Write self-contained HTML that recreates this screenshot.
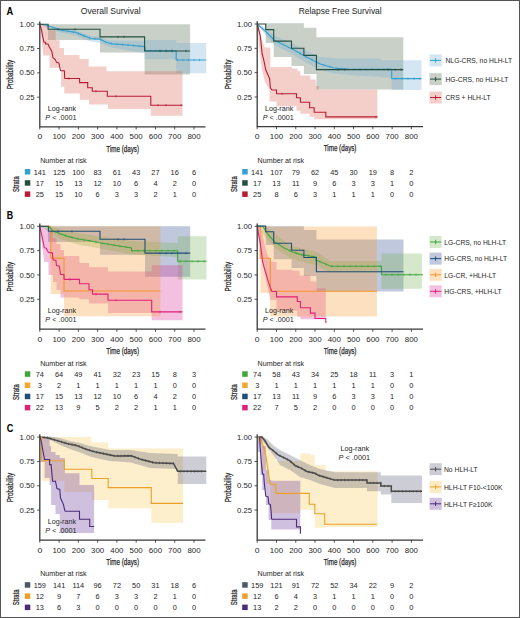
<!DOCTYPE html>
<html><head><meta charset="utf-8"><style>html,body{margin:0;padding:0;background:#fff;}svg{display:block;}text{font-family:"Liberation Sans", sans-serif;}</style></head>
<body><svg width="520" height="618" viewBox="0 0 520 618">
<rect x="0" y="0" width="520" height="618" fill="#fff"/>
<text x="6.50" y="15.00" font-size="10.4" text-anchor="start" fill="#000" font-weight="bold" textLength="6.7" lengthAdjust="spacingAndGlyphs" >A</text>
<text x="110.70" y="13.60" font-size="9.4" text-anchor="middle" fill="#262626" textLength="59.8" lengthAdjust="spacingAndGlyphs" >Overall Survival</text>
<text x="340.20" y="13.60" font-size="9.4" text-anchor="middle" fill="#262626" textLength="83" lengthAdjust="spacingAndGlyphs" >Relapse Free Survival</text>
<path d="M48.10,24.20 L100.00,24.20 L100.00,24.20 L144.60,24.20 L144.60,24.20 L190.10,24.20 L190.10,74.60 L144.60,74.60 L144.60,52.60 L100.00,52.60 L100.00,39.90 L48.10,39.90 Z" stroke="none" stroke-width="1" fill="#486248" fill-opacity="0.3" />
<path d="M39.80,24.20 L60.00,27.80 L75.40,30.00 L83.10,33.00 L90.80,36.00 L100.00,36.50 L106.20,39.50 L112.30,40.50 L130.00,40.80 L144.60,40.80 L144.60,40.00 L176.20,40.00 L176.20,43.00 L206.20,43.00 L206.20,73.20 L176.20,73.20 L176.20,59.20 L144.60,59.20 L144.60,53.00 L130.00,51.00 L112.30,47.50 L106.20,46.00 L100.00,43.00 L90.80,41.50 L83.10,39.00 L75.40,35.50 L60.00,32.50 L45.00,27.00 Z" stroke="none" stroke-width="1" fill="#73acd7" fill-opacity="0.3" />
<path d="M39.80,24.20 L43.80,24.20 L43.80,25.50 L48.40,25.50 L48.40,30.30 L55.70,30.30 L55.70,40.30 L59.50,40.30 L59.50,48.00 L64.00,48.00 L64.00,54.90 L79.50,54.90 L79.50,59.00 L88.70,59.00 L88.70,66.40 L106.50,66.40 L106.50,71.30 L182.50,71.30 L182.50,115.80 L150.80,115.80 L150.80,109.00 L108.00,109.00 L108.00,104.40 L89.00,104.40 L89.00,99.80 L79.80,99.80 L79.80,93.50 L64.20,93.50 L64.20,86.80 L61.10,86.80 L61.10,67.80 L49.60,67.80 L49.60,55.40 L43.30,55.40 L41.00,35.00 Z" stroke="none" stroke-width="1" fill="#d9604f" fill-opacity="0.3" />
<path d="M39.80,24.20 L45.00,25.00 L52.00,27.00 L60.00,30.00 L75.40,32.30 L83.10,35.40 L90.80,38.50 L100.00,39.20 L106.20,42.30 L112.30,43.80 L127.70,45.00 L144.60,46.60 L145.50,50.80 L176.20,50.80 L176.20,60.00 L206.20,60.00" stroke="#34a0cf" stroke-width="1.2" fill="none" />
<path d="M62.00,29.10 V31.50 M67.50,29.92 V32.32 M73.00,30.74 V33.14 M78.50,32.35 V34.75 M84.00,34.56 V36.96 M89.50,36.78 V39.18 M95.00,37.62 V40.02 M100.50,38.25 V40.65 M106.00,41.00 V43.40 M111.50,42.40 V44.80 M117.00,42.97 V45.37 M122.50,43.39 V45.79 M128.00,43.83 V46.23 M133.50,44.35 V46.75 M139.00,44.87 V47.27 M144.50,45.39 V47.79 M150.00,49.60 V52.00 M155.50,49.60 V52.00 M161.00,49.60 V52.00 M166.50,49.60 V52.00 M172.00,49.60 V52.00 M177.50,58.80 V61.20 M183.00,58.80 V61.20 M188.50,58.80 V61.20 M194.00,58.80 V61.20 M199.50,58.80 V61.20" stroke="#34a0cf" stroke-width="0.7" fill="none"/>
<path d="M39.80,24.20 H48.10 V29.20 H100.00 V36.90 H144.60 V51.00 H190.10" stroke="#244f3f" stroke-width="1.1" fill="none" />
<path d="M58.00,28.00 V30.40 M75.00,28.00 V30.40 M118.00,35.70 V38.10 M124.00,35.70 V38.10 M160.00,49.80 V52.20 M166.00,49.80 V52.20 M172.00,49.80 V52.20 M186.00,49.80 V52.20" stroke="#244f3f" stroke-width="0.7" fill="none"/>
<path d="M39.80,24.20 L41.50,30.00 L43.00,38.00 L44.00,42.20 L45.50,42.20 L45.50,44.00 L48.00,44.00 L49.00,46.30 L51.80,51.40 L53.00,57.80 L55.30,59.50 L56.50,62.40 L58.80,63.00 L60.50,70.50 L64.50,71.00 L64.60,78.50 M64.60,78.50 H79.60 V82.60 H87.70 V87.70 H92.30 V91.20 H107.30 V96.30 H150.80 V105.20 H182.50" stroke="#b81c34" stroke-width="1.1" fill="none" />
<path d="M69.00,77.30 V79.70 M96.00,90.00 V92.40 M116.00,95.10 V97.50 M158.00,104.00 V106.40 M166.00,104.00 V106.40 M181.00,104.00 V106.40" stroke="#b81c34" stroke-width="0.7" fill="none"/>
<text x="47.70" y="111.20" font-size="7.2" text-anchor="start" fill="#262626" textLength="28.3" lengthAdjust="spacingAndGlyphs" >Log-rank</text>
<text x="45.30" y="120.30" font-size="7.2" text-anchor="start" fill="#262626" textLength="31.2" lengthAdjust="spacingAndGlyphs" ><tspan font-style="italic">P</tspan> &lt; .0001</text>
<path d="M265.70,23.30 L273.70,23.30 L273.70,23.30 L291.50,23.30 L291.50,23.30 L303.90,23.30 L303.90,27.80 L316.40,27.80 L316.40,37.20 L403.30,37.20 L403.30,89.50 L316.40,89.50 L316.40,74.00 L303.90,74.00 L303.90,66.00 L291.50,66.00 L291.50,57.10 L273.70,57.10 L273.70,43.00 L265.70,43.00 Z" stroke="none" stroke-width="1" fill="#486248" fill-opacity="0.3" />
<path d="M257.20,24.00 L265.70,27.50 L274.60,35.50 L293.50,44.00 L306.90,51.00 L320.40,57.00 L340.00,58.40 L381.00,58.40 L381.00,60.30 L421.50,60.30 L421.50,90.00 L391.70,90.00 L391.70,78.00 L381.00,77.00 L360.00,75.70 L333.80,73.50 L320.40,70.00 L306.90,63.00 L293.50,55.00 L274.60,45.00 L265.70,35.50 Z" stroke="none" stroke-width="1" fill="#73acd7" fill-opacity="0.3" />
<path d="M257.20,24.00 L262.00,40.00 L264.80,47.40 L270.40,47.40 L270.40,67.00 L291.90,67.00 L291.90,68.60 L297.50,68.60 L297.50,71.30 L300.20,71.30 L300.20,75.40 L310.30,75.40 L310.30,79.40 L315.70,79.40 L315.70,86.10 L319.00,86.10 L319.00,89.50 L377.30,89.50 L377.30,119.30 L314.20,119.30 L314.20,116.90 L309.60,116.90 L309.60,113.80 L300.40,113.80 L300.40,110.80 L296.50,110.80 L296.50,106.20 L276.50,106.20 L276.50,101.50 L269.60,101.50 L269.60,90.00 L265.00,82.00 L262.00,70.00 L259.50,50.00 Z" stroke="none" stroke-width="1" fill="#d9604f" fill-opacity="0.3" />
<path d="M257.20,24.00 L265.70,31.50 L274.60,40.50 L280.00,43.10 L293.50,49.80 L306.90,57.20 L320.40,64.00 L333.80,68.00 L350.00,69.30 L391.70,69.30 L391.70,78.60 L421.50,78.60" stroke="#34a0cf" stroke-width="1.1" fill="none" />
<path d="M300.00,52.19 V54.59 M306.00,55.50 V57.90 M312.00,58.57 V60.97 M318.00,61.59 V63.99 M324.00,63.87 V66.27 M330.00,65.67 V68.07 M336.00,66.98 V69.38 M342.00,67.46 V69.86 M348.00,67.94 V70.34 M354.00,68.10 V70.50 M360.00,68.10 V70.50 M366.00,68.10 V70.50 M372.00,68.10 V70.50 M378.00,68.10 V70.50 M384.00,68.10 V70.50 M390.00,68.10 V70.50 M396.00,77.40 V79.80 M402.00,77.40 V79.80 M408.00,77.40 V79.80 M414.00,77.40 V79.80 M420.00,77.40 V79.80" stroke="#34a0cf" stroke-width="0.7" fill="none"/>
<path d="M257.20,24.00 H265.70 V29.60 H273.70 V41.10 H291.50 V48.20 H303.90 V55.40 H316.40 V69.60 H403.30" stroke="#244f3f" stroke-width="1.1" fill="none" />
<path d="M338.00,68.40 V70.80 M345.00,68.40 V70.80 M388.00,68.40 V70.80 M395.00,68.40 V70.80 M401.00,68.40 V70.80" stroke="#244f3f" stroke-width="0.7" fill="none"/>
<path d="M257.40,24.00 L260.30,35.80 L262.10,53.60 L263.90,60.70 L265.80,70.00 L269.60,78.50 L270.40,87.70 L271.90,90.00 M271.90,90.00 H276.50 V93.80 H296.50 V97.70 H300.40 V102.30 H309.60 V107.70 H314.20 V112.30 H325.80 V116.90 H377.50" stroke="#b81c34" stroke-width="1.1" fill="none" />
<path d="M282.00,92.60 V95.00 M376.00,115.70 V118.10" stroke="#b81c34" stroke-width="0.7" fill="none"/>
<text x="265.00" y="111.20" font-size="7.2" text-anchor="start" fill="#262626" textLength="28.3" lengthAdjust="spacingAndGlyphs" >Log-rank</text>
<text x="262.70" y="120.30" font-size="7.2" text-anchor="start" fill="#262626" textLength="31.2" lengthAdjust="spacingAndGlyphs" ><tspan font-style="italic">P</tspan> &lt; .0001</text>
<path d="M39.80,21.40 V126.90 H205.50" stroke="#3a3a3a" stroke-width="1.3" fill="none" />
<path d="M37.20,24.20 H39.80" stroke="#3a3a3a" stroke-width="0.9" fill="none" />
<text x="34.60" y="26.80" font-size="7.4" text-anchor="end" fill="#262626" textLength="15.0" lengthAdjust="spacingAndGlyphs" >1.00</text>
<path d="M37.20,48.52 H39.80" stroke="#3a3a3a" stroke-width="0.9" fill="none" />
<text x="34.60" y="51.12" font-size="7.4" text-anchor="end" fill="#262626" textLength="15.0" lengthAdjust="spacingAndGlyphs" >0.75</text>
<path d="M37.20,72.85 H39.80" stroke="#3a3a3a" stroke-width="0.9" fill="none" />
<text x="34.60" y="75.45" font-size="7.4" text-anchor="end" fill="#262626" textLength="15.0" lengthAdjust="spacingAndGlyphs" >0.50</text>
<path d="M37.20,97.17 H39.80" stroke="#3a3a3a" stroke-width="0.9" fill="none" />
<text x="34.60" y="99.77" font-size="7.4" text-anchor="end" fill="#262626" textLength="15.0" lengthAdjust="spacingAndGlyphs" >0.25</text>
<path d="M39.80,126.90 V129.50" stroke="#3a3a3a" stroke-width="0.9" fill="none" />
<text x="39.80" y="139.40" font-size="7.4" text-anchor="middle" fill="#262626" textLength="4.8" lengthAdjust="spacingAndGlyphs" >0</text>
<path d="M59.08,126.90 V129.50" stroke="#3a3a3a" stroke-width="0.9" fill="none" />
<text x="59.08" y="139.40" font-size="7.4" text-anchor="middle" fill="#262626" textLength="13.2" lengthAdjust="spacingAndGlyphs" >100</text>
<path d="M78.35,126.90 V129.50" stroke="#3a3a3a" stroke-width="0.9" fill="none" />
<text x="78.35" y="139.40" font-size="7.4" text-anchor="middle" fill="#262626" textLength="13.2" lengthAdjust="spacingAndGlyphs" >200</text>
<path d="M97.62,126.90 V129.50" stroke="#3a3a3a" stroke-width="0.9" fill="none" />
<text x="97.62" y="139.40" font-size="7.4" text-anchor="middle" fill="#262626" textLength="13.2" lengthAdjust="spacingAndGlyphs" >300</text>
<path d="M116.90,126.90 V129.50" stroke="#3a3a3a" stroke-width="0.9" fill="none" />
<text x="116.90" y="139.40" font-size="7.4" text-anchor="middle" fill="#262626" textLength="13.2" lengthAdjust="spacingAndGlyphs" >400</text>
<path d="M136.18,126.90 V129.50" stroke="#3a3a3a" stroke-width="0.9" fill="none" />
<text x="136.18" y="139.40" font-size="7.4" text-anchor="middle" fill="#262626" textLength="13.2" lengthAdjust="spacingAndGlyphs" >500</text>
<path d="M155.45,126.90 V129.50" stroke="#3a3a3a" stroke-width="0.9" fill="none" />
<text x="155.45" y="139.40" font-size="7.4" text-anchor="middle" fill="#262626" textLength="13.2" lengthAdjust="spacingAndGlyphs" >600</text>
<path d="M174.73,126.90 V129.50" stroke="#3a3a3a" stroke-width="0.9" fill="none" />
<text x="174.73" y="139.40" font-size="7.4" text-anchor="middle" fill="#262626" textLength="13.2" lengthAdjust="spacingAndGlyphs" >700</text>
<path d="M194.00,126.90 V129.50" stroke="#3a3a3a" stroke-width="0.9" fill="none" />
<text x="194.00" y="139.40" font-size="7.4" text-anchor="middle" fill="#262626" textLength="13.2" lengthAdjust="spacingAndGlyphs" >800</text>
<text x="122.65" y="151.70" font-size="8.8" text-anchor="middle" fill="#262626" textLength="32.7" lengthAdjust="spacingAndGlyphs" stroke="#262626" stroke-width="0.25">Time (days)</text>
<text x="13.20" y="74.60" font-size="8.6" text-anchor="middle" fill="#262626" textLength="29.5" lengthAdjust="spacingAndGlyphs" transform="rotate(-90 13.20 74.60)" stroke="#262626" stroke-width="0.25">Probability</text>
<path d="M257.20,21.20 V126.60 H423.00" stroke="#3a3a3a" stroke-width="1.3" fill="none" />
<path d="M254.60,24.00 H257.20" stroke="#3a3a3a" stroke-width="0.9" fill="none" />
<text x="252.00" y="26.60" font-size="7.4" text-anchor="end" fill="#262626" textLength="15.0" lengthAdjust="spacingAndGlyphs" >1.00</text>
<path d="M254.60,48.33 H257.20" stroke="#3a3a3a" stroke-width="0.9" fill="none" />
<text x="252.00" y="50.93" font-size="7.4" text-anchor="end" fill="#262626" textLength="15.0" lengthAdjust="spacingAndGlyphs" >0.75</text>
<path d="M254.60,72.65 H257.20" stroke="#3a3a3a" stroke-width="0.9" fill="none" />
<text x="252.00" y="75.25" font-size="7.4" text-anchor="end" fill="#262626" textLength="15.0" lengthAdjust="spacingAndGlyphs" >0.50</text>
<path d="M254.60,96.97 H257.20" stroke="#3a3a3a" stroke-width="0.9" fill="none" />
<text x="252.00" y="99.57" font-size="7.4" text-anchor="end" fill="#262626" textLength="15.0" lengthAdjust="spacingAndGlyphs" >0.25</text>
<path d="M257.20,126.60 V129.20" stroke="#3a3a3a" stroke-width="0.9" fill="none" />
<text x="257.20" y="139.10" font-size="7.4" text-anchor="middle" fill="#262626" textLength="4.8" lengthAdjust="spacingAndGlyphs" >0</text>
<path d="M276.47,126.60 V129.20" stroke="#3a3a3a" stroke-width="0.9" fill="none" />
<text x="276.47" y="139.10" font-size="7.4" text-anchor="middle" fill="#262626" textLength="13.2" lengthAdjust="spacingAndGlyphs" >100</text>
<path d="M295.75,126.60 V129.20" stroke="#3a3a3a" stroke-width="0.9" fill="none" />
<text x="295.75" y="139.10" font-size="7.4" text-anchor="middle" fill="#262626" textLength="13.2" lengthAdjust="spacingAndGlyphs" >200</text>
<path d="M315.02,126.60 V129.20" stroke="#3a3a3a" stroke-width="0.9" fill="none" />
<text x="315.02" y="139.10" font-size="7.4" text-anchor="middle" fill="#262626" textLength="13.2" lengthAdjust="spacingAndGlyphs" >300</text>
<path d="M334.30,126.60 V129.20" stroke="#3a3a3a" stroke-width="0.9" fill="none" />
<text x="334.30" y="139.10" font-size="7.4" text-anchor="middle" fill="#262626" textLength="13.2" lengthAdjust="spacingAndGlyphs" >400</text>
<path d="M353.57,126.60 V129.20" stroke="#3a3a3a" stroke-width="0.9" fill="none" />
<text x="353.57" y="139.10" font-size="7.4" text-anchor="middle" fill="#262626" textLength="13.2" lengthAdjust="spacingAndGlyphs" >500</text>
<path d="M372.85,126.60 V129.20" stroke="#3a3a3a" stroke-width="0.9" fill="none" />
<text x="372.85" y="139.10" font-size="7.4" text-anchor="middle" fill="#262626" textLength="13.2" lengthAdjust="spacingAndGlyphs" >600</text>
<path d="M392.12,126.60 V129.20" stroke="#3a3a3a" stroke-width="0.9" fill="none" />
<text x="392.12" y="139.10" font-size="7.4" text-anchor="middle" fill="#262626" textLength="13.2" lengthAdjust="spacingAndGlyphs" >700</text>
<path d="M411.40,126.60 V129.20" stroke="#3a3a3a" stroke-width="0.9" fill="none" />
<text x="411.40" y="139.10" font-size="7.4" text-anchor="middle" fill="#262626" textLength="13.2" lengthAdjust="spacingAndGlyphs" >800</text>
<text x="340.10" y="151.40" font-size="8.8" text-anchor="middle" fill="#262626" textLength="32.7" lengthAdjust="spacingAndGlyphs" stroke="#262626" stroke-width="0.25">Time (days)</text>
<text x="230.60" y="74.40" font-size="8.6" text-anchor="middle" fill="#262626" textLength="29.5" lengthAdjust="spacingAndGlyphs" transform="rotate(-90 230.60 74.40)" stroke="#262626" stroke-width="0.25">Probability</text>
<text x="40.20" y="163.20" font-size="7.5" text-anchor="start" fill="#262626" textLength="46.5" lengthAdjust="spacingAndGlyphs" >Number at risk</text>
<rect x="24.80" y="169.00" width="5.5" height="5.5" fill="#34a0cf"/>
<text x="39.80" y="174.50" font-size="7.4" text-anchor="middle" fill="#262626" >141</text>
<text x="59.08" y="174.50" font-size="7.4" text-anchor="middle" fill="#262626" >125</text>
<text x="78.35" y="174.50" font-size="7.4" text-anchor="middle" fill="#262626" >100</text>
<text x="97.62" y="174.50" font-size="7.4" text-anchor="middle" fill="#262626" >83</text>
<text x="116.90" y="174.50" font-size="7.4" text-anchor="middle" fill="#262626" >61</text>
<text x="136.18" y="174.50" font-size="7.4" text-anchor="middle" fill="#262626" >43</text>
<text x="155.45" y="174.50" font-size="7.4" text-anchor="middle" fill="#262626" >27</text>
<text x="174.73" y="174.50" font-size="7.4" text-anchor="middle" fill="#262626" >16</text>
<text x="194.00" y="174.50" font-size="7.4" text-anchor="middle" fill="#262626" >6</text>
<rect x="24.80" y="180.20" width="5.5" height="5.5" fill="#244f3f"/>
<text x="39.80" y="185.70" font-size="7.4" text-anchor="middle" fill="#262626" >17</text>
<text x="59.08" y="185.70" font-size="7.4" text-anchor="middle" fill="#262626" >15</text>
<text x="78.35" y="185.70" font-size="7.4" text-anchor="middle" fill="#262626" >13</text>
<text x="97.62" y="185.70" font-size="7.4" text-anchor="middle" fill="#262626" >12</text>
<text x="116.90" y="185.70" font-size="7.4" text-anchor="middle" fill="#262626" >10</text>
<text x="136.18" y="185.70" font-size="7.4" text-anchor="middle" fill="#262626" >6</text>
<text x="155.45" y="185.70" font-size="7.4" text-anchor="middle" fill="#262626" >4</text>
<text x="174.73" y="185.70" font-size="7.4" text-anchor="middle" fill="#262626" >2</text>
<text x="194.00" y="185.70" font-size="7.4" text-anchor="middle" fill="#262626" >0</text>
<rect x="24.80" y="191.40" width="5.5" height="5.5" fill="#b81c34"/>
<text x="39.80" y="196.90" font-size="7.4" text-anchor="middle" fill="#262626" >25</text>
<text x="59.08" y="196.90" font-size="7.4" text-anchor="middle" fill="#262626" >15</text>
<text x="78.35" y="196.90" font-size="7.4" text-anchor="middle" fill="#262626" >10</text>
<text x="97.62" y="196.90" font-size="7.4" text-anchor="middle" fill="#262626" >6</text>
<text x="116.90" y="196.90" font-size="7.4" text-anchor="middle" fill="#262626" >3</text>
<text x="136.18" y="196.90" font-size="7.4" text-anchor="middle" fill="#262626" >3</text>
<text x="155.45" y="196.90" font-size="7.4" text-anchor="middle" fill="#262626" >2</text>
<text x="174.73" y="196.90" font-size="7.4" text-anchor="middle" fill="#262626" >1</text>
<text x="194.00" y="196.90" font-size="7.4" text-anchor="middle" fill="#262626" >0</text>
<text x="19.20" y="184.10" font-size="8.8" text-anchor="middle" fill="#262626" textLength="15.8" lengthAdjust="spacingAndGlyphs" transform="rotate(-90 19.20 184.10)" stroke="#262626" stroke-width="0.25">Strata</text>
<text x="257.60" y="163.20" font-size="7.5" text-anchor="start" fill="#262626" textLength="46.5" lengthAdjust="spacingAndGlyphs" >Number at risk</text>
<rect x="242.20" y="169.00" width="5.5" height="5.5" fill="#34a0cf"/>
<text x="257.20" y="174.50" font-size="7.4" text-anchor="middle" fill="#262626" >141</text>
<text x="276.47" y="174.50" font-size="7.4" text-anchor="middle" fill="#262626" >107</text>
<text x="295.75" y="174.50" font-size="7.4" text-anchor="middle" fill="#262626" >79</text>
<text x="315.02" y="174.50" font-size="7.4" text-anchor="middle" fill="#262626" >62</text>
<text x="334.30" y="174.50" font-size="7.4" text-anchor="middle" fill="#262626" >45</text>
<text x="353.57" y="174.50" font-size="7.4" text-anchor="middle" fill="#262626" >30</text>
<text x="372.85" y="174.50" font-size="7.4" text-anchor="middle" fill="#262626" >19</text>
<text x="392.12" y="174.50" font-size="7.4" text-anchor="middle" fill="#262626" >8</text>
<text x="411.40" y="174.50" font-size="7.4" text-anchor="middle" fill="#262626" >2</text>
<rect x="242.20" y="180.20" width="5.5" height="5.5" fill="#244f3f"/>
<text x="257.20" y="185.70" font-size="7.4" text-anchor="middle" fill="#262626" >17</text>
<text x="276.47" y="185.70" font-size="7.4" text-anchor="middle" fill="#262626" >13</text>
<text x="295.75" y="185.70" font-size="7.4" text-anchor="middle" fill="#262626" >11</text>
<text x="315.02" y="185.70" font-size="7.4" text-anchor="middle" fill="#262626" >9</text>
<text x="334.30" y="185.70" font-size="7.4" text-anchor="middle" fill="#262626" >6</text>
<text x="353.57" y="185.70" font-size="7.4" text-anchor="middle" fill="#262626" >3</text>
<text x="372.85" y="185.70" font-size="7.4" text-anchor="middle" fill="#262626" >3</text>
<text x="392.12" y="185.70" font-size="7.4" text-anchor="middle" fill="#262626" >1</text>
<text x="411.40" y="185.70" font-size="7.4" text-anchor="middle" fill="#262626" >0</text>
<rect x="242.20" y="191.40" width="5.5" height="5.5" fill="#b81c34"/>
<text x="257.20" y="196.90" font-size="7.4" text-anchor="middle" fill="#262626" >25</text>
<text x="276.47" y="196.90" font-size="7.4" text-anchor="middle" fill="#262626" >8</text>
<text x="295.75" y="196.90" font-size="7.4" text-anchor="middle" fill="#262626" >6</text>
<text x="315.02" y="196.90" font-size="7.4" text-anchor="middle" fill="#262626" >3</text>
<text x="334.30" y="196.90" font-size="7.4" text-anchor="middle" fill="#262626" >1</text>
<text x="353.57" y="196.90" font-size="7.4" text-anchor="middle" fill="#262626" >1</text>
<text x="372.85" y="196.90" font-size="7.4" text-anchor="middle" fill="#262626" >1</text>
<text x="392.12" y="196.90" font-size="7.4" text-anchor="middle" fill="#262626" >0</text>
<text x="411.40" y="196.90" font-size="7.4" text-anchor="middle" fill="#262626" >0</text>
<text x="236.60" y="184.10" font-size="8.8" text-anchor="middle" fill="#262626" textLength="15.8" lengthAdjust="spacingAndGlyphs" transform="rotate(-90 236.60 184.10)" stroke="#262626" stroke-width="0.25">Strata</text>
<rect x="429.50" y="54.40" width="12.2" height="12" fill="#73acd7" fill-opacity="0.3"/>
<path d="M430.00,60.40 H441.20 M435.60,58.20 V62.60" stroke="#34a0cf" stroke-width="1.0" fill="none" />
<text x="445.50" y="63.20" font-size="7.1" text-anchor="start" fill="#262626" textLength="66.64" lengthAdjust="spacingAndGlyphs" >NLG-CRS, no HLH-LT</text>
<rect x="429.50" y="73.10" width="12.2" height="12" fill="#486248" fill-opacity="0.3"/>
<path d="M430.00,79.10 H441.20 M435.60,76.90 V81.30" stroke="#244f3f" stroke-width="1.0" fill="none" />
<text x="445.50" y="81.90" font-size="7.1" text-anchor="start" fill="#262626" textLength="62.88" lengthAdjust="spacingAndGlyphs" >HG-CRS, no HLH-LT</text>
<rect x="429.50" y="91.50" width="12.2" height="12" fill="#d9604f" fill-opacity="0.3"/>
<path d="M430.00,97.50 H441.20 M435.60,95.30 V99.70" stroke="#b81c34" stroke-width="1.0" fill="none" />
<text x="445.50" y="100.30" font-size="7.1" text-anchor="start" fill="#262626" textLength="45.07" lengthAdjust="spacingAndGlyphs" >CRS + HLH-LT</text>
<text x="6.70" y="219.30" font-size="10.4" text-anchor="start" fill="#000" font-weight="bold" textLength="6.4" lengthAdjust="spacingAndGlyphs" >B</text>
<path d="M48.10,226.30 L100.00,226.30 L100.00,226.30 L145.00,226.30 L145.00,226.30 L190.20,226.30 L190.20,276.70 L145.00,276.70 L145.00,254.70 L100.00,254.70 L100.00,242.00 L48.10,242.00 Z" stroke="none" stroke-width="1" fill="#2c4a8c" fill-opacity="0.3" />
<path d="M39.80,226.30 L50.00,226.50 L60.00,229.00 L80.00,233.50 L100.00,236.50 L131.50,241.00 L177.70,243.00 L177.70,236.30 L206.50,236.30 L206.50,279.60 L177.70,279.60 L177.70,257.00 L131.50,254.50 L100.00,248.50 L80.00,245.00 L60.00,239.00 L45.00,229.00 Z" stroke="none" stroke-width="1" fill="#73b255" fill-opacity="0.3" />
<path d="M39.80,226.30 L44.00,226.30 L44.00,228.00 L48.40,228.00 L48.40,232.00 L53.00,232.00 L53.00,238.00 L56.50,238.00 L56.50,244.00 L60.50,244.00 L60.50,250.00 L64.00,250.00 L64.00,256.00 L79.50,256.00 L79.50,263.00 L89.00,263.00 L89.00,267.30 L108.00,267.30 L108.00,271.60 L151.70,271.60 L151.70,265.20 L182.50,265.20 L182.50,320.20 L151.70,320.20 L151.70,313.10 L108.00,313.10 L108.00,303.60 L89.00,303.60 L89.00,299.30 L79.50,299.30 L79.50,297.60 L60.50,297.60 L60.50,290.00 L56.50,290.00 L56.50,282.00 L53.00,282.00 L53.00,275.00 L48.40,275.00 L48.40,262.00 L44.30,262.00 L42.00,245.00 L40.50,232.00 Z" stroke="none" stroke-width="1" fill="#d72d98" fill-opacity="0.3" />
<path d="M50.70,226.30 L64.00,226.30 L64.00,226.30 L160.40,226.30 L160.40,316.20 L64.00,316.20 L64.00,294.00 L50.70,294.00 Z" stroke="none" stroke-width="1" fill="#f8982d" fill-opacity="0.3" />
<path d="M39.80,226.30 H50.70 V258.10 H64.00 V291.00 H160.40" stroke="#f5962a" stroke-width="1.1" fill="none" />
<path d="M39.80,226.30 L49.00,226.90 L53.00,231.00 L58.80,233.30 L66.80,236.10 L78.40,239.00 L89.90,240.80 L98.00,242.50 L110.00,244.50 L131.50,247.90 L131.50,250.80 L177.70,250.80 L177.70,261.30 L206.50,261.30" stroke="#3fa63a" stroke-width="1.1" fill="none" />
<path d="M60.00,232.52 V234.92 M66.00,234.62 V237.02 M72.00,236.20 V238.60 M78.00,237.70 V240.10 M84.00,238.68 V241.08 M90.00,239.62 V242.02 M96.00,240.88 V243.28 M102.00,241.97 V244.37 M108.00,242.97 V245.37 M114.00,243.93 V246.33 M120.00,244.88 V247.28 M126.00,245.83 V248.23 M132.00,249.60 V252.00 M138.00,249.60 V252.00 M144.00,249.60 V252.00 M150.00,249.60 V252.00 M156.00,249.60 V252.00 M162.00,249.60 V252.00 M168.00,249.60 V252.00 M174.00,249.60 V252.00 M180.00,260.10 V262.50 M186.00,260.10 V262.50 M192.00,260.10 V262.50 M198.00,260.10 V262.50 M204.00,260.10 V262.50" stroke="#3fa63a" stroke-width="0.7" fill="none"/>
<path d="M39.80,226.30 H48.40 V231.30 H100.00 V239.20 H145.00 V253.10 H190.20" stroke="#1f4e79" stroke-width="1.1" fill="none" />
<path d="M58.00,230.10 V232.50 M72.00,230.10 V232.50 M118.00,238.00 V240.40 M124.00,238.00 V240.40 M160.00,251.90 V254.30 M166.00,251.90 V254.30 M172.00,251.90 V254.30 M186.00,251.90 V254.30" stroke="#1f4e79" stroke-width="0.7" fill="none"/>
<path d="M39.70,225.50 L40.90,231.50 L42.60,239.00 L44.30,247.70 L46.10,248.30 L48.40,252.30 L52.40,252.90 L53.00,259.80 L55.90,260.40 L56.50,265.60 L59.30,266.10 L60.50,274.20 L64.00,274.80 L64.00,279.40 M64.00,279.40 H79.50 V283.70 H89.00 V289.80 H92.50 V294.10 H108.00 V300.20 H151.70 V311.90 H182.50" stroke="#e0207a" stroke-width="1.1" fill="none" />
<path d="M70.00,278.20 V280.60 M96.00,292.90 V295.30 M116.00,299.00 V301.40 M160.00,310.70 V313.10 M180.00,310.70 V313.10" stroke="#e0207a" stroke-width="0.7" fill="none"/>
<text x="47.70" y="313.40" font-size="7.2" text-anchor="start" fill="#262626" textLength="28.3" lengthAdjust="spacingAndGlyphs" >Log-rank</text>
<text x="45.30" y="322.40" font-size="7.2" text-anchor="start" fill="#262626" textLength="31.2" lengthAdjust="spacingAndGlyphs" ><tspan font-style="italic">P</tspan> &lt; .0001</text>
<path d="M265.70,226.30 L273.70,226.30 L273.70,226.30 L291.50,226.30 L291.50,226.30 L303.90,226.30 L303.90,229.90 L316.40,229.90 L316.40,239.40 L403.50,239.40 L403.50,291.50 L316.40,291.50 L316.40,276.10 L303.90,276.10 L303.90,268.10 L291.50,268.10 L291.50,259.20 L273.70,259.20 L273.70,245.10 L265.70,245.10 Z" stroke="none" stroke-width="1" fill="#2c4a8c" fill-opacity="0.3" />
<path d="M257.20,226.30 L266.00,227.00 L275.00,234.00 L290.00,245.50 L317.00,252.00 L330.00,261.00 L381.50,261.00 L381.50,253.50 L421.90,253.50 L421.90,288.80 L381.50,288.80 L381.50,272.50 L330.00,272.50 L317.00,266.00 L290.00,258.00 L275.00,248.00 L266.00,238.00 L260.00,230.00 Z" stroke="none" stroke-width="1" fill="#73b255" fill-opacity="0.3" />
<path d="M257.20,226.30 L259.00,226.30 L262.00,232.00 L264.50,244.00 L266.50,252.00 L270.40,262.00 L276.50,262.00 L276.50,269.80 L292.40,269.80 L292.40,270.80 L299.60,270.80 L299.60,275.40 L310.40,275.40 L310.40,281.50 L316.50,281.50 L316.50,288.20 L325.80,288.20 L325.80,319.20 L300.40,319.20 L300.40,316.50 L297.30,316.50 L297.30,310.80 L276.50,310.80 L276.50,300.00 L270.40,300.00 L267.00,285.00 L264.00,270.00 L261.00,250.00 L258.50,235.00 Z" stroke="none" stroke-width="1" fill="#d72d98" fill-opacity="0.3" />
<path d="M260.30,226.30 L270.10,226.30 L270.10,226.50 L376.90,226.50 L376.90,316.50 L270.10,316.50 L270.10,293.00 L260.30,293.00 Z" stroke="none" stroke-width="1" fill="#f8982d" fill-opacity="0.3" />
<path d="M257.20,226.30 H260.20 V258.20 H270.40 V291.20 H376.90" stroke="#f5962a" stroke-width="1.1" fill="none" />
<path d="M257.20,226.30 L263.10,226.30 L266.50,232.70 L274.60,241.90 L283.80,247.70 L291.90,251.70 L301.10,254.60 L315.80,256.90 L315.80,260.00 L330.80,266.20 L381.50,266.20 L381.50,274.70 L423.00,274.70" stroke="#3fa63a" stroke-width="1.1" fill="none" />
<path d="M290.00,249.56 V251.96 M296.00,251.79 V254.19 M302.00,253.54 V255.94 M308.00,254.48 V256.88 M314.00,255.42 V257.82 M320.00,260.54 V262.94 M326.00,263.02 V265.42 M332.00,265.00 V267.40 M338.00,265.00 V267.40 M344.00,265.00 V267.40 M350.00,265.00 V267.40 M356.00,265.00 V267.40 M362.00,265.00 V267.40 M368.00,265.00 V267.40 M374.00,265.00 V267.40 M380.00,265.00 V267.40 M386.00,273.50 V275.90 M392.00,273.50 V275.90 M398.00,273.50 V275.90 M404.00,273.50 V275.90 M410.00,273.50 V275.90 M416.00,273.50 V275.90" stroke="#3fa63a" stroke-width="0.7" fill="none"/>
<path d="M257.20,226.10 H265.70 V231.70 H273.70 V243.20 H291.50 V250.30 H303.90 V257.50 H316.40 V271.70 H403.50" stroke="#1f4e79" stroke-width="1.1" fill="none" />
<path d="M257.40,226.30 L258.50,233.80 L260.20,243.10 L261.30,251.10 L262.50,261.50 L264.20,267.70 L266.50,275.40 L268.80,283.10 L270.40,287.70 L271.90,291.50 M271.90,291.50 H276.50 V296.90 H297.30 V301.50 H300.40 V307.70 H310.40 V313.10 H315.00 V318.50 H325.80 V323.10 H325.80" stroke="#e0207a" stroke-width="1.1" fill="none" />
<text x="265.00" y="313.40" font-size="7.2" text-anchor="start" fill="#262626" textLength="28.3" lengthAdjust="spacingAndGlyphs" >Log-rank</text>
<text x="262.70" y="322.40" font-size="7.2" text-anchor="start" fill="#262626" textLength="31.2" lengthAdjust="spacingAndGlyphs" ><tspan font-style="italic">P</tspan> &lt; .0001</text>
<path d="M39.80,223.50 V329.20 H205.50" stroke="#3a3a3a" stroke-width="1.3" fill="none" />
<path d="M37.20,226.30 H39.80" stroke="#3a3a3a" stroke-width="0.9" fill="none" />
<text x="34.60" y="228.90" font-size="7.4" text-anchor="end" fill="#262626" textLength="15.0" lengthAdjust="spacingAndGlyphs" >1.00</text>
<path d="M37.20,250.62 H39.80" stroke="#3a3a3a" stroke-width="0.9" fill="none" />
<text x="34.60" y="253.22" font-size="7.4" text-anchor="end" fill="#262626" textLength="15.0" lengthAdjust="spacingAndGlyphs" >0.75</text>
<path d="M37.20,274.95 H39.80" stroke="#3a3a3a" stroke-width="0.9" fill="none" />
<text x="34.60" y="277.55" font-size="7.4" text-anchor="end" fill="#262626" textLength="15.0" lengthAdjust="spacingAndGlyphs" >0.50</text>
<path d="M37.20,299.27 H39.80" stroke="#3a3a3a" stroke-width="0.9" fill="none" />
<text x="34.60" y="301.88" font-size="7.4" text-anchor="end" fill="#262626" textLength="15.0" lengthAdjust="spacingAndGlyphs" >0.25</text>
<path d="M39.80,329.20 V331.80" stroke="#3a3a3a" stroke-width="0.9" fill="none" />
<text x="39.80" y="341.70" font-size="7.4" text-anchor="middle" fill="#262626" textLength="4.8" lengthAdjust="spacingAndGlyphs" >0</text>
<path d="M59.08,329.20 V331.80" stroke="#3a3a3a" stroke-width="0.9" fill="none" />
<text x="59.08" y="341.70" font-size="7.4" text-anchor="middle" fill="#262626" textLength="13.2" lengthAdjust="spacingAndGlyphs" >100</text>
<path d="M78.35,329.20 V331.80" stroke="#3a3a3a" stroke-width="0.9" fill="none" />
<text x="78.35" y="341.70" font-size="7.4" text-anchor="middle" fill="#262626" textLength="13.2" lengthAdjust="spacingAndGlyphs" >200</text>
<path d="M97.62,329.20 V331.80" stroke="#3a3a3a" stroke-width="0.9" fill="none" />
<text x="97.62" y="341.70" font-size="7.4" text-anchor="middle" fill="#262626" textLength="13.2" lengthAdjust="spacingAndGlyphs" >300</text>
<path d="M116.90,329.20 V331.80" stroke="#3a3a3a" stroke-width="0.9" fill="none" />
<text x="116.90" y="341.70" font-size="7.4" text-anchor="middle" fill="#262626" textLength="13.2" lengthAdjust="spacingAndGlyphs" >400</text>
<path d="M136.18,329.20 V331.80" stroke="#3a3a3a" stroke-width="0.9" fill="none" />
<text x="136.18" y="341.70" font-size="7.4" text-anchor="middle" fill="#262626" textLength="13.2" lengthAdjust="spacingAndGlyphs" >500</text>
<path d="M155.45,329.20 V331.80" stroke="#3a3a3a" stroke-width="0.9" fill="none" />
<text x="155.45" y="341.70" font-size="7.4" text-anchor="middle" fill="#262626" textLength="13.2" lengthAdjust="spacingAndGlyphs" >600</text>
<path d="M174.73,329.20 V331.80" stroke="#3a3a3a" stroke-width="0.9" fill="none" />
<text x="174.73" y="341.70" font-size="7.4" text-anchor="middle" fill="#262626" textLength="13.2" lengthAdjust="spacingAndGlyphs" >700</text>
<path d="M194.00,329.20 V331.80" stroke="#3a3a3a" stroke-width="0.9" fill="none" />
<text x="194.00" y="341.70" font-size="7.4" text-anchor="middle" fill="#262626" textLength="13.2" lengthAdjust="spacingAndGlyphs" >800</text>
<text x="122.65" y="354.00" font-size="8.8" text-anchor="middle" fill="#262626" textLength="32.7" lengthAdjust="spacingAndGlyphs" stroke="#262626" stroke-width="0.25">Time (days)</text>
<text x="13.20" y="276.70" font-size="8.6" text-anchor="middle" fill="#262626" textLength="29.5" lengthAdjust="spacingAndGlyphs" transform="rotate(-90 13.20 276.70)" stroke="#262626" stroke-width="0.25">Probability</text>
<path d="M257.20,223.50 V329.20 H423.00" stroke="#3a3a3a" stroke-width="1.3" fill="none" />
<path d="M254.60,226.30 H257.20" stroke="#3a3a3a" stroke-width="0.9" fill="none" />
<text x="252.00" y="228.90" font-size="7.4" text-anchor="end" fill="#262626" textLength="15.0" lengthAdjust="spacingAndGlyphs" >1.00</text>
<path d="M254.60,250.62 H257.20" stroke="#3a3a3a" stroke-width="0.9" fill="none" />
<text x="252.00" y="253.22" font-size="7.4" text-anchor="end" fill="#262626" textLength="15.0" lengthAdjust="spacingAndGlyphs" >0.75</text>
<path d="M254.60,274.95 H257.20" stroke="#3a3a3a" stroke-width="0.9" fill="none" />
<text x="252.00" y="277.55" font-size="7.4" text-anchor="end" fill="#262626" textLength="15.0" lengthAdjust="spacingAndGlyphs" >0.50</text>
<path d="M254.60,299.27 H257.20" stroke="#3a3a3a" stroke-width="0.9" fill="none" />
<text x="252.00" y="301.88" font-size="7.4" text-anchor="end" fill="#262626" textLength="15.0" lengthAdjust="spacingAndGlyphs" >0.25</text>
<path d="M257.20,329.20 V331.80" stroke="#3a3a3a" stroke-width="0.9" fill="none" />
<text x="257.20" y="341.70" font-size="7.4" text-anchor="middle" fill="#262626" textLength="4.8" lengthAdjust="spacingAndGlyphs" >0</text>
<path d="M276.47,329.20 V331.80" stroke="#3a3a3a" stroke-width="0.9" fill="none" />
<text x="276.47" y="341.70" font-size="7.4" text-anchor="middle" fill="#262626" textLength="13.2" lengthAdjust="spacingAndGlyphs" >100</text>
<path d="M295.75,329.20 V331.80" stroke="#3a3a3a" stroke-width="0.9" fill="none" />
<text x="295.75" y="341.70" font-size="7.4" text-anchor="middle" fill="#262626" textLength="13.2" lengthAdjust="spacingAndGlyphs" >200</text>
<path d="M315.02,329.20 V331.80" stroke="#3a3a3a" stroke-width="0.9" fill="none" />
<text x="315.02" y="341.70" font-size="7.4" text-anchor="middle" fill="#262626" textLength="13.2" lengthAdjust="spacingAndGlyphs" >300</text>
<path d="M334.30,329.20 V331.80" stroke="#3a3a3a" stroke-width="0.9" fill="none" />
<text x="334.30" y="341.70" font-size="7.4" text-anchor="middle" fill="#262626" textLength="13.2" lengthAdjust="spacingAndGlyphs" >400</text>
<path d="M353.57,329.20 V331.80" stroke="#3a3a3a" stroke-width="0.9" fill="none" />
<text x="353.57" y="341.70" font-size="7.4" text-anchor="middle" fill="#262626" textLength="13.2" lengthAdjust="spacingAndGlyphs" >500</text>
<path d="M372.85,329.20 V331.80" stroke="#3a3a3a" stroke-width="0.9" fill="none" />
<text x="372.85" y="341.70" font-size="7.4" text-anchor="middle" fill="#262626" textLength="13.2" lengthAdjust="spacingAndGlyphs" >600</text>
<path d="M392.12,329.20 V331.80" stroke="#3a3a3a" stroke-width="0.9" fill="none" />
<text x="392.12" y="341.70" font-size="7.4" text-anchor="middle" fill="#262626" textLength="13.2" lengthAdjust="spacingAndGlyphs" >700</text>
<path d="M411.40,329.20 V331.80" stroke="#3a3a3a" stroke-width="0.9" fill="none" />
<text x="411.40" y="341.70" font-size="7.4" text-anchor="middle" fill="#262626" textLength="13.2" lengthAdjust="spacingAndGlyphs" >800</text>
<text x="340.10" y="354.00" font-size="8.8" text-anchor="middle" fill="#262626" textLength="32.7" lengthAdjust="spacingAndGlyphs" stroke="#262626" stroke-width="0.25">Time (days)</text>
<text x="230.60" y="276.70" font-size="8.6" text-anchor="middle" fill="#262626" textLength="29.5" lengthAdjust="spacingAndGlyphs" transform="rotate(-90 230.60 276.70)" stroke="#262626" stroke-width="0.25">Probability</text>
<text x="40.20" y="365.50" font-size="7.5" text-anchor="start" fill="#262626" textLength="46.5" lengthAdjust="spacingAndGlyphs" >Number at risk</text>
<rect x="24.80" y="371.30" width="5.5" height="5.5" fill="#3fa63a"/>
<text x="39.80" y="376.80" font-size="7.4" text-anchor="middle" fill="#262626" >74</text>
<text x="59.08" y="376.80" font-size="7.4" text-anchor="middle" fill="#262626" >64</text>
<text x="78.35" y="376.80" font-size="7.4" text-anchor="middle" fill="#262626" >49</text>
<text x="97.62" y="376.80" font-size="7.4" text-anchor="middle" fill="#262626" >41</text>
<text x="116.90" y="376.80" font-size="7.4" text-anchor="middle" fill="#262626" >32</text>
<text x="136.18" y="376.80" font-size="7.4" text-anchor="middle" fill="#262626" >23</text>
<text x="155.45" y="376.80" font-size="7.4" text-anchor="middle" fill="#262626" >15</text>
<text x="174.73" y="376.80" font-size="7.4" text-anchor="middle" fill="#262626" >8</text>
<text x="194.00" y="376.80" font-size="7.4" text-anchor="middle" fill="#262626" >3</text>
<rect x="24.80" y="382.50" width="5.5" height="5.5" fill="#f0aa30"/>
<text x="39.80" y="388.00" font-size="7.4" text-anchor="middle" fill="#262626" >3</text>
<text x="59.08" y="388.00" font-size="7.4" text-anchor="middle" fill="#262626" >2</text>
<text x="78.35" y="388.00" font-size="7.4" text-anchor="middle" fill="#262626" >1</text>
<text x="97.62" y="388.00" font-size="7.4" text-anchor="middle" fill="#262626" >1</text>
<text x="116.90" y="388.00" font-size="7.4" text-anchor="middle" fill="#262626" >1</text>
<text x="136.18" y="388.00" font-size="7.4" text-anchor="middle" fill="#262626" >1</text>
<text x="155.45" y="388.00" font-size="7.4" text-anchor="middle" fill="#262626" >1</text>
<text x="174.73" y="388.00" font-size="7.4" text-anchor="middle" fill="#262626" >0</text>
<text x="194.00" y="388.00" font-size="7.4" text-anchor="middle" fill="#262626" >0</text>
<rect x="24.80" y="393.70" width="5.5" height="5.5" fill="#1f4e79"/>
<text x="39.80" y="399.20" font-size="7.4" text-anchor="middle" fill="#262626" >17</text>
<text x="59.08" y="399.20" font-size="7.4" text-anchor="middle" fill="#262626" >15</text>
<text x="78.35" y="399.20" font-size="7.4" text-anchor="middle" fill="#262626" >13</text>
<text x="97.62" y="399.20" font-size="7.4" text-anchor="middle" fill="#262626" >12</text>
<text x="116.90" y="399.20" font-size="7.4" text-anchor="middle" fill="#262626" >10</text>
<text x="136.18" y="399.20" font-size="7.4" text-anchor="middle" fill="#262626" >6</text>
<text x="155.45" y="399.20" font-size="7.4" text-anchor="middle" fill="#262626" >4</text>
<text x="174.73" y="399.20" font-size="7.4" text-anchor="middle" fill="#262626" >2</text>
<text x="194.00" y="399.20" font-size="7.4" text-anchor="middle" fill="#262626" >0</text>
<rect x="24.80" y="404.90" width="5.5" height="5.5" fill="#e0207a"/>
<text x="39.80" y="410.40" font-size="7.4" text-anchor="middle" fill="#262626" >22</text>
<text x="59.08" y="410.40" font-size="7.4" text-anchor="middle" fill="#262626" >13</text>
<text x="78.35" y="410.40" font-size="7.4" text-anchor="middle" fill="#262626" >9</text>
<text x="97.62" y="410.40" font-size="7.4" text-anchor="middle" fill="#262626" >5</text>
<text x="116.90" y="410.40" font-size="7.4" text-anchor="middle" fill="#262626" >2</text>
<text x="136.18" y="410.40" font-size="7.4" text-anchor="middle" fill="#262626" >2</text>
<text x="155.45" y="410.40" font-size="7.4" text-anchor="middle" fill="#262626" >1</text>
<text x="174.73" y="410.40" font-size="7.4" text-anchor="middle" fill="#262626" >1</text>
<text x="194.00" y="410.40" font-size="7.4" text-anchor="middle" fill="#262626" >0</text>
<text x="19.20" y="392.00" font-size="8.8" text-anchor="middle" fill="#262626" textLength="15.8" lengthAdjust="spacingAndGlyphs" transform="rotate(-90 19.20 392.00)" stroke="#262626" stroke-width="0.25">Strata</text>
<text x="257.60" y="365.50" font-size="7.5" text-anchor="start" fill="#262626" textLength="46.5" lengthAdjust="spacingAndGlyphs" >Number at risk</text>
<rect x="242.20" y="371.30" width="5.5" height="5.5" fill="#3fa63a"/>
<text x="257.20" y="376.80" font-size="7.4" text-anchor="middle" fill="#262626" >74</text>
<text x="276.47" y="376.80" font-size="7.4" text-anchor="middle" fill="#262626" >58</text>
<text x="295.75" y="376.80" font-size="7.4" text-anchor="middle" fill="#262626" >43</text>
<text x="315.02" y="376.80" font-size="7.4" text-anchor="middle" fill="#262626" >34</text>
<text x="334.30" y="376.80" font-size="7.4" text-anchor="middle" fill="#262626" >25</text>
<text x="353.57" y="376.80" font-size="7.4" text-anchor="middle" fill="#262626" >18</text>
<text x="372.85" y="376.80" font-size="7.4" text-anchor="middle" fill="#262626" >11</text>
<text x="392.12" y="376.80" font-size="7.4" text-anchor="middle" fill="#262626" >3</text>
<text x="411.40" y="376.80" font-size="7.4" text-anchor="middle" fill="#262626" >1</text>
<rect x="242.20" y="382.50" width="5.5" height="5.5" fill="#f0aa30"/>
<text x="257.20" y="388.00" font-size="7.4" text-anchor="middle" fill="#262626" >3</text>
<text x="276.47" y="388.00" font-size="7.4" text-anchor="middle" fill="#262626" >1</text>
<text x="295.75" y="388.00" font-size="7.4" text-anchor="middle" fill="#262626" >1</text>
<text x="315.02" y="388.00" font-size="7.4" text-anchor="middle" fill="#262626" >1</text>
<text x="334.30" y="388.00" font-size="7.4" text-anchor="middle" fill="#262626" >1</text>
<text x="353.57" y="388.00" font-size="7.4" text-anchor="middle" fill="#262626" >1</text>
<text x="372.85" y="388.00" font-size="7.4" text-anchor="middle" fill="#262626" >1</text>
<text x="392.12" y="388.00" font-size="7.4" text-anchor="middle" fill="#262626" >0</text>
<text x="411.40" y="388.00" font-size="7.4" text-anchor="middle" fill="#262626" >0</text>
<rect x="242.20" y="393.70" width="5.5" height="5.5" fill="#1f4e79"/>
<text x="257.20" y="399.20" font-size="7.4" text-anchor="middle" fill="#262626" >17</text>
<text x="276.47" y="399.20" font-size="7.4" text-anchor="middle" fill="#262626" >13</text>
<text x="295.75" y="399.20" font-size="7.4" text-anchor="middle" fill="#262626" >11</text>
<text x="315.02" y="399.20" font-size="7.4" text-anchor="middle" fill="#262626" >9</text>
<text x="334.30" y="399.20" font-size="7.4" text-anchor="middle" fill="#262626" >6</text>
<text x="353.57" y="399.20" font-size="7.4" text-anchor="middle" fill="#262626" >3</text>
<text x="372.85" y="399.20" font-size="7.4" text-anchor="middle" fill="#262626" >3</text>
<text x="392.12" y="399.20" font-size="7.4" text-anchor="middle" fill="#262626" >1</text>
<text x="411.40" y="399.20" font-size="7.4" text-anchor="middle" fill="#262626" >0</text>
<rect x="242.20" y="404.90" width="5.5" height="5.5" fill="#e0207a"/>
<text x="257.20" y="410.40" font-size="7.4" text-anchor="middle" fill="#262626" >22</text>
<text x="276.47" y="410.40" font-size="7.4" text-anchor="middle" fill="#262626" >7</text>
<text x="295.75" y="410.40" font-size="7.4" text-anchor="middle" fill="#262626" >5</text>
<text x="315.02" y="410.40" font-size="7.4" text-anchor="middle" fill="#262626" >2</text>
<text x="334.30" y="410.40" font-size="7.4" text-anchor="middle" fill="#262626" >0</text>
<text x="353.57" y="410.40" font-size="7.4" text-anchor="middle" fill="#262626" >0</text>
<text x="372.85" y="410.40" font-size="7.4" text-anchor="middle" fill="#262626" >0</text>
<text x="392.12" y="410.40" font-size="7.4" text-anchor="middle" fill="#262626" >0</text>
<text x="411.40" y="410.40" font-size="7.4" text-anchor="middle" fill="#262626" >0</text>
<text x="236.60" y="392.00" font-size="8.8" text-anchor="middle" fill="#262626" textLength="15.8" lengthAdjust="spacingAndGlyphs" transform="rotate(-90 236.60 392.00)" stroke="#262626" stroke-width="0.25">Strata</text>
<rect x="429.50" y="236.00" width="12.2" height="12" fill="#73b255" fill-opacity="0.3"/>
<path d="M430.00,242.00 H441.20 M435.60,239.80 V244.20" stroke="#3fa63a" stroke-width="1.0" fill="none" />
<text x="444.30" y="244.80" font-size="7.1" text-anchor="start" fill="#262626" textLength="61.76" lengthAdjust="spacingAndGlyphs" >LG-CRS, no HLH-LT</text>
<rect x="429.50" y="252.60" width="12.2" height="12" fill="#2c4a8c" fill-opacity="0.3"/>
<path d="M430.00,258.60 H441.20 M435.60,256.40 V260.80" stroke="#1f4e79" stroke-width="1.0" fill="none" />
<text x="444.30" y="261.40" font-size="7.1" text-anchor="start" fill="#262626" textLength="62.88" lengthAdjust="spacingAndGlyphs" >HG-CRS, no HLH-LT</text>
<rect x="429.50" y="268.80" width="12.2" height="12" fill="#f8982d" fill-opacity="0.3"/>
<path d="M430.00,274.80 H441.20 M435.60,272.60 V277.00" stroke="#f5962a" stroke-width="1.0" fill="none" />
<text x="444.30" y="277.60" font-size="7.1" text-anchor="start" fill="#262626" textLength="51.82" lengthAdjust="spacingAndGlyphs" >LG-CR, +HLH-LT</text>
<rect x="429.50" y="285.30" width="12.2" height="12" fill="#d72d98" fill-opacity="0.3"/>
<path d="M430.00,291.30 H441.20 M435.60,289.10 V293.50" stroke="#e0207a" stroke-width="1.0" fill="none" />
<text x="444.30" y="294.10" font-size="7.1" text-anchor="start" fill="#262626" textLength="57.44" lengthAdjust="spacingAndGlyphs" >HG-CRS, +HLH-LT</text>
<text x="6.70" y="432.40" font-size="10.4" text-anchor="start" fill="#000" font-weight="bold" textLength="6.6" lengthAdjust="spacingAndGlyphs" >C</text>
<path d="M41.60,437.10 L64.30,437.10 L64.30,437.10 L91.80,437.10 L91.80,442.50 L108.20,442.50 L108.20,448.60 L151.30,448.60 L151.30,448.60 L183.00,448.60 L183.00,523.10 L151.30,523.10 L151.30,508.30 L108.20,508.30 L108.20,500.00 L91.80,500.00 L91.80,492.00 L64.30,492.00 L64.30,481.00 L41.60,481.00 Z" stroke="none" stroke-width="1" fill="#f8bd3a" fill-opacity="0.26" />
<path d="M40.50,437.10 L44.60,437.10 L44.60,438.00 L49.60,438.00 L49.60,446.00 L51.10,446.00 L51.10,452.00 L55.50,452.00 L55.50,455.00 L59.80,455.00 L59.80,458.00 L64.90,458.00 L64.90,473.30 L79.50,473.30 L79.50,485.00 L94.10,485.00 L94.10,533.00 L79.50,533.00 L79.50,533.00 L64.90,533.00 L64.90,533.00 L59.80,533.00 L59.80,514.00 L55.50,514.00 L55.50,505.00 L51.10,505.00 L51.10,485.00 L49.60,485.00 L49.60,478.00 L44.60,478.00 L44.60,462.00 L40.50,462.00 Z" stroke="none" stroke-width="1" fill="#622d98" fill-opacity="0.3" />
<path d="M39.80,437.10 L50.00,436.50 L60.00,438.00 L70.00,441.00 L80.00,443.00 L90.00,446.00 L100.00,448.00 L110.00,450.00 L131.00,450.10 L150.00,453.00 L177.70,454.00 L177.70,456.40 L206.30,456.40 L206.30,484.00 L177.70,484.00 L177.70,469.00 L150.00,468.00 L131.00,462.50 L110.00,461.00 L100.00,459.00 L90.00,456.50 L80.00,452.50 L70.00,449.00 L60.00,445.00 L50.00,440.00 Z" stroke="none" stroke-width="1" fill="#585873" fill-opacity="0.3" />
<path d="M39.80,437.10 L47.60,437.70 L57.20,440.60 L66.80,443.50 L76.50,445.40 L86.10,449.20 L95.70,452.10 L105.30,454.00 L114.90,456.00 L131.20,455.80 L141.70,459.60 L154.40,462.80 L173.50,463.40 L177.70,471.30 L206.30,471.30" stroke="#4a4a4a" stroke-width="1.5" fill="none" />
<path d="M44.00,436.22 V438.62 M47.50,436.49 V438.89 M51.00,437.53 V439.93 M54.50,438.58 V440.98 M58.00,439.64 V442.04 M61.50,440.70 V443.10 M65.00,441.76 V444.16 M68.50,442.63 V445.03 M72.00,443.32 V445.72 M75.50,444.00 V446.40 M79.00,445.19 V447.59 M82.50,446.57 V448.97 M86.00,447.96 V450.36 M89.50,449.03 V451.43 M93.00,450.08 V452.48 M96.50,451.06 V453.46 M100.00,451.75 V454.15 M103.50,452.44 V454.84 M107.00,453.15 V455.55 M110.50,453.88 V456.28 M114.00,454.61 V457.01 M117.50,454.77 V457.17 M121.00,454.73 V457.13 M124.50,454.68 V457.08 M128.00,454.64 V457.04 M131.50,454.71 V457.11 M135.00,455.98 V458.38 M138.50,457.24 V459.64 M142.00,458.48 V460.88 M145.50,459.36 V461.76 M149.00,460.24 V462.64 M152.50,461.12 V463.52 M156.00,461.65 V464.05 M159.50,461.76 V464.16 M163.00,461.87 V464.27 M166.50,461.98 V464.38 M170.00,462.09 V464.49 M173.50,462.20 V464.60 M177.00,468.78 V471.18 M180.50,470.10 V472.50 M184.00,470.10 V472.50 M187.50,470.10 V472.50 M191.00,470.10 V472.50 M194.50,470.10 V472.50 M198.00,470.10 V472.50 M201.50,470.10 V472.50" stroke="#4a4a4a" stroke-width="0.7" fill="none"/>
<path d="M39.80,437.10 H41.60 V460.80 H64.30 V469.20 H91.80 V478.50 H108.20 V487.60 H151.30 V503.40 H183.00" stroke="#eba02a" stroke-width="1.1" fill="none" />
<path d="M40.20,437.10 L41.50,443.00 L44.60,459.50 L49.60,459.50 L49.60,464.60 L51.10,464.60 L52.60,481.30 L55.50,481.30 L57.00,488.60 L59.80,489.50 L60.50,498.00 L63.50,504.60 L64.90,511.20 M64.90,511.20 H79.50 V519.20 H89.70 V526.50 H94.10" stroke="#4a2a7a" stroke-width="1.1" fill="none" />
<text x="47.70" y="524.40" font-size="7.2" text-anchor="start" fill="#262626" textLength="28.3" lengthAdjust="spacingAndGlyphs" >Log-rank</text>
<text x="45.30" y="533.40" font-size="7.2" text-anchor="start" fill="#262626" textLength="31.2" lengthAdjust="spacingAndGlyphs" ><tspan font-style="italic">P</tspan> &lt; .0001</text>
<path d="M257.20,437.10 L262.00,437.10 L262.00,439.00 L266.00,439.00 L266.00,444.00 L270.40,444.00 L270.40,452.00 L275.80,452.00 L275.80,461.00 L300.30,461.00 L300.30,453.60 L310.40,453.60 L310.40,455.00 L314.80,455.00 L314.80,465.00 L325.80,465.00 L325.80,471.30 L377.60,471.30 L377.60,527.00 L325.80,527.00 L325.80,527.80 L314.80,527.80 L314.80,509.70 L310.40,509.70 L310.40,509.70 L300.30,509.70 L300.30,513.30 L275.80,513.30 L275.80,513.30 L270.40,513.30 L270.40,484.00 L266.00,484.00 L266.00,470.00 L262.00,470.00 L262.00,445.00 L257.20,445.00 Z" stroke="none" stroke-width="1" fill="#f8bd3a" fill-opacity="0.26" />
<path d="M258.00,437.10 L260.40,437.10 L260.40,437.10 L262.20,437.10 L262.20,446.00 L265.90,446.00 L265.90,470.00 L268.60,470.00 L268.60,480.00 L271.30,480.00 L271.30,480.70 L300.30,480.70 L300.30,529.60 L271.30,529.60 L271.30,520.00 L268.60,520.00 L268.60,505.00 L265.90,505.00 L265.90,490.00 L262.20,490.00 L262.20,475.00 L260.40,475.00 L260.40,452.00 L258.00,452.00 Z" stroke="none" stroke-width="1" fill="#622d98" fill-opacity="0.3" />
<path d="M257.20,437.10 L262.00,436.50 L266.00,438.00 L270.00,442.00 L274.00,446.00 L280.00,450.00 L290.00,455.00 L300.00,460.00 L310.00,465.00 L320.00,469.00 L335.00,472.30 L380.80,472.30 L380.80,475.50 L422.00,475.50 L422.00,503.00 L391.30,503.00 L391.30,494.50 L380.80,494.50 L380.80,491.30 L367.00,491.30 L367.00,488.00 L335.00,488.00 L320.00,484.00 L310.00,480.00 L300.00,477.00 L290.00,470.00 L280.00,465.00 L274.00,456.00 L270.00,451.00 L266.00,445.00 L261.00,439.00 Z" stroke="none" stroke-width="1" fill="#585873" fill-opacity="0.3" />
<path d="M257.20,437.10 L261.90,436.90 L265.40,441.50 L268.80,447.30 L273.50,450.80 L278.10,454.80 L283.80,457.70 L289.60,460.60 L295.40,465.80 L301.10,468.10 L306.90,471.50 L315.00,473.30 L318.40,475.30 L327.50,478.00 L334.70,480.10 L367.00,480.10 L367.00,482.90 L380.80,482.90 L380.80,486.00 L391.30,486.00 L391.30,491.30 L422.00,491.30" stroke="#4a4a4a" stroke-width="1.5" fill="none" />
<path d="M262.00,435.83 V438.23 M265.60,440.64 V443.04 M269.20,446.40 V448.80 M272.80,449.08 V451.48 M276.40,452.12 V454.52 M280.00,454.57 V456.97 M283.60,456.40 V458.80 M287.20,458.20 V460.60 M290.80,460.48 V462.88 M294.40,463.70 V466.10 M298.00,465.65 V468.05 M301.60,467.19 V469.59 M305.20,469.30 V471.70 M308.80,470.72 V473.12 M312.40,471.52 V473.92 M316.00,472.69 V475.09 M319.60,474.46 V476.86 M323.20,475.52 V477.92 M326.80,476.59 V478.99 M330.40,477.65 V480.05 M334.00,478.70 V481.10 M337.60,478.90 V481.30 M341.20,478.90 V481.30 M344.80,478.90 V481.30 M348.40,478.90 V481.30 M352.00,478.90 V481.30 M355.60,478.90 V481.30 M359.20,478.90 V481.30 M362.80,478.90 V481.30 M366.40,478.90 V481.30 M370.00,481.70 V484.10 M373.60,481.70 V484.10 M377.20,481.70 V484.10 M380.80,481.70 V484.10 M384.40,484.80 V487.20 M388.00,484.80 V487.20 M391.60,490.10 V492.50 M395.20,490.10 V492.50 M398.80,490.10 V492.50 M402.40,490.10 V492.50 M406.00,490.10 V492.50 M409.60,490.10 V492.50 M413.20,490.10 V492.50 M416.80,490.10 V492.50 M420.40,490.10 V492.50" stroke="#4a4a4a" stroke-width="0.7" fill="none"/>
<path d="M257.20,437.10 L258.50,437.10 L261.90,441.50 L265.40,453.10 L267.70,468.10 L269.40,479.60 L270.40,484.30 L275.80,484.30 L275.80,493.40 M275.80,493.40 H309.30 V504.30 H314.80 V513.70 H324.70 V524.20 H377.00" stroke="#eba02a" stroke-width="1.1" fill="none" />
<path d="M259.60,437.10 L260.20,447.30 L261.30,462.30 L262.50,473.80 L263.70,474.40 L264.20,481.90 L265.00,489.20 L265.80,496.20 L268.10,496.90 L268.80,503.80 L270.40,504.60 L271.20,512.30 L271.60,519.20 M271.60,519.20 H296.50 V526.90 H300.40 V533.80 H300.40" stroke="#4a2a7a" stroke-width="1.1" fill="none" />
<text x="354.85" y="451.40" font-size="7.2" text-anchor="middle" fill="#262626" textLength="28.5" lengthAdjust="spacingAndGlyphs" >Log-rank</text>
<text x="354.35" y="460.00" font-size="7.2" text-anchor="middle" fill="#262626" textLength="31.7" lengthAdjust="spacingAndGlyphs" ><tspan font-style="italic">P</tspan> &lt; .0001</text>
<path d="M39.80,434.30 V540.10 H205.50" stroke="#3a3a3a" stroke-width="1.3" fill="none" />
<path d="M37.20,437.10 H39.80" stroke="#3a3a3a" stroke-width="0.9" fill="none" />
<text x="34.60" y="439.70" font-size="7.4" text-anchor="end" fill="#262626" textLength="15.0" lengthAdjust="spacingAndGlyphs" >1.00</text>
<path d="M37.20,461.43 H39.80" stroke="#3a3a3a" stroke-width="0.9" fill="none" />
<text x="34.60" y="464.03" font-size="7.4" text-anchor="end" fill="#262626" textLength="15.0" lengthAdjust="spacingAndGlyphs" >0.75</text>
<path d="M37.20,485.75 H39.80" stroke="#3a3a3a" stroke-width="0.9" fill="none" />
<text x="34.60" y="488.35" font-size="7.4" text-anchor="end" fill="#262626" textLength="15.0" lengthAdjust="spacingAndGlyphs" >0.50</text>
<path d="M37.20,510.08 H39.80" stroke="#3a3a3a" stroke-width="0.9" fill="none" />
<text x="34.60" y="512.68" font-size="7.4" text-anchor="end" fill="#262626" textLength="15.0" lengthAdjust="spacingAndGlyphs" >0.25</text>
<path d="M39.80,540.10 V542.70" stroke="#3a3a3a" stroke-width="0.9" fill="none" />
<text x="39.80" y="552.60" font-size="7.4" text-anchor="middle" fill="#262626" textLength="4.8" lengthAdjust="spacingAndGlyphs" >0</text>
<path d="M59.08,540.10 V542.70" stroke="#3a3a3a" stroke-width="0.9" fill="none" />
<text x="59.08" y="552.60" font-size="7.4" text-anchor="middle" fill="#262626" textLength="13.2" lengthAdjust="spacingAndGlyphs" >100</text>
<path d="M78.35,540.10 V542.70" stroke="#3a3a3a" stroke-width="0.9" fill="none" />
<text x="78.35" y="552.60" font-size="7.4" text-anchor="middle" fill="#262626" textLength="13.2" lengthAdjust="spacingAndGlyphs" >200</text>
<path d="M97.62,540.10 V542.70" stroke="#3a3a3a" stroke-width="0.9" fill="none" />
<text x="97.62" y="552.60" font-size="7.4" text-anchor="middle" fill="#262626" textLength="13.2" lengthAdjust="spacingAndGlyphs" >300</text>
<path d="M116.90,540.10 V542.70" stroke="#3a3a3a" stroke-width="0.9" fill="none" />
<text x="116.90" y="552.60" font-size="7.4" text-anchor="middle" fill="#262626" textLength="13.2" lengthAdjust="spacingAndGlyphs" >400</text>
<path d="M136.18,540.10 V542.70" stroke="#3a3a3a" stroke-width="0.9" fill="none" />
<text x="136.18" y="552.60" font-size="7.4" text-anchor="middle" fill="#262626" textLength="13.2" lengthAdjust="spacingAndGlyphs" >500</text>
<path d="M155.45,540.10 V542.70" stroke="#3a3a3a" stroke-width="0.9" fill="none" />
<text x="155.45" y="552.60" font-size="7.4" text-anchor="middle" fill="#262626" textLength="13.2" lengthAdjust="spacingAndGlyphs" >600</text>
<path d="M174.73,540.10 V542.70" stroke="#3a3a3a" stroke-width="0.9" fill="none" />
<text x="174.73" y="552.60" font-size="7.4" text-anchor="middle" fill="#262626" textLength="13.2" lengthAdjust="spacingAndGlyphs" >700</text>
<path d="M194.00,540.10 V542.70" stroke="#3a3a3a" stroke-width="0.9" fill="none" />
<text x="194.00" y="552.60" font-size="7.4" text-anchor="middle" fill="#262626" textLength="13.2" lengthAdjust="spacingAndGlyphs" >800</text>
<text x="122.65" y="564.90" font-size="8.8" text-anchor="middle" fill="#262626" textLength="32.7" lengthAdjust="spacingAndGlyphs" stroke="#262626" stroke-width="0.25">Time (days)</text>
<text x="13.20" y="487.50" font-size="8.6" text-anchor="middle" fill="#262626" textLength="29.5" lengthAdjust="spacingAndGlyphs" transform="rotate(-90 13.20 487.50)" stroke="#262626" stroke-width="0.25">Probability</text>
<path d="M257.20,434.30 V540.10 H423.00" stroke="#3a3a3a" stroke-width="1.3" fill="none" />
<path d="M254.60,437.10 H257.20" stroke="#3a3a3a" stroke-width="0.9" fill="none" />
<text x="252.00" y="439.70" font-size="7.4" text-anchor="end" fill="#262626" textLength="15.0" lengthAdjust="spacingAndGlyphs" >1.00</text>
<path d="M254.60,461.43 H257.20" stroke="#3a3a3a" stroke-width="0.9" fill="none" />
<text x="252.00" y="464.03" font-size="7.4" text-anchor="end" fill="#262626" textLength="15.0" lengthAdjust="spacingAndGlyphs" >0.75</text>
<path d="M254.60,485.75 H257.20" stroke="#3a3a3a" stroke-width="0.9" fill="none" />
<text x="252.00" y="488.35" font-size="7.4" text-anchor="end" fill="#262626" textLength="15.0" lengthAdjust="spacingAndGlyphs" >0.50</text>
<path d="M254.60,510.08 H257.20" stroke="#3a3a3a" stroke-width="0.9" fill="none" />
<text x="252.00" y="512.68" font-size="7.4" text-anchor="end" fill="#262626" textLength="15.0" lengthAdjust="spacingAndGlyphs" >0.25</text>
<path d="M257.20,540.10 V542.70" stroke="#3a3a3a" stroke-width="0.9" fill="none" />
<text x="257.20" y="552.60" font-size="7.4" text-anchor="middle" fill="#262626" textLength="4.8" lengthAdjust="spacingAndGlyphs" >0</text>
<path d="M276.47,540.10 V542.70" stroke="#3a3a3a" stroke-width="0.9" fill="none" />
<text x="276.47" y="552.60" font-size="7.4" text-anchor="middle" fill="#262626" textLength="13.2" lengthAdjust="spacingAndGlyphs" >100</text>
<path d="M295.75,540.10 V542.70" stroke="#3a3a3a" stroke-width="0.9" fill="none" />
<text x="295.75" y="552.60" font-size="7.4" text-anchor="middle" fill="#262626" textLength="13.2" lengthAdjust="spacingAndGlyphs" >200</text>
<path d="M315.02,540.10 V542.70" stroke="#3a3a3a" stroke-width="0.9" fill="none" />
<text x="315.02" y="552.60" font-size="7.4" text-anchor="middle" fill="#262626" textLength="13.2" lengthAdjust="spacingAndGlyphs" >300</text>
<path d="M334.30,540.10 V542.70" stroke="#3a3a3a" stroke-width="0.9" fill="none" />
<text x="334.30" y="552.60" font-size="7.4" text-anchor="middle" fill="#262626" textLength="13.2" lengthAdjust="spacingAndGlyphs" >400</text>
<path d="M353.57,540.10 V542.70" stroke="#3a3a3a" stroke-width="0.9" fill="none" />
<text x="353.57" y="552.60" font-size="7.4" text-anchor="middle" fill="#262626" textLength="13.2" lengthAdjust="spacingAndGlyphs" >500</text>
<path d="M372.85,540.10 V542.70" stroke="#3a3a3a" stroke-width="0.9" fill="none" />
<text x="372.85" y="552.60" font-size="7.4" text-anchor="middle" fill="#262626" textLength="13.2" lengthAdjust="spacingAndGlyphs" >600</text>
<path d="M392.12,540.10 V542.70" stroke="#3a3a3a" stroke-width="0.9" fill="none" />
<text x="392.12" y="552.60" font-size="7.4" text-anchor="middle" fill="#262626" textLength="13.2" lengthAdjust="spacingAndGlyphs" >700</text>
<path d="M411.40,540.10 V542.70" stroke="#3a3a3a" stroke-width="0.9" fill="none" />
<text x="411.40" y="552.60" font-size="7.4" text-anchor="middle" fill="#262626" textLength="13.2" lengthAdjust="spacingAndGlyphs" >800</text>
<text x="340.10" y="564.90" font-size="8.8" text-anchor="middle" fill="#262626" textLength="32.7" lengthAdjust="spacingAndGlyphs" stroke="#262626" stroke-width="0.25">Time (days)</text>
<text x="230.60" y="487.50" font-size="8.6" text-anchor="middle" fill="#262626" textLength="29.5" lengthAdjust="spacingAndGlyphs" transform="rotate(-90 230.60 487.50)" stroke="#262626" stroke-width="0.25">Probability</text>
<text x="40.20" y="576.40" font-size="7.5" text-anchor="start" fill="#262626" textLength="46.5" lengthAdjust="spacingAndGlyphs" >Number at risk</text>
<rect x="24.80" y="582.20" width="5.5" height="5.5" fill="#4d5866"/>
<text x="39.80" y="587.70" font-size="7.4" text-anchor="middle" fill="#262626" >159</text>
<text x="59.08" y="587.70" font-size="7.4" text-anchor="middle" fill="#262626" >141</text>
<text x="78.35" y="587.70" font-size="7.4" text-anchor="middle" fill="#262626" >114</text>
<text x="97.62" y="587.70" font-size="7.4" text-anchor="middle" fill="#262626" >96</text>
<text x="116.90" y="587.70" font-size="7.4" text-anchor="middle" fill="#262626" >72</text>
<text x="136.18" y="587.70" font-size="7.4" text-anchor="middle" fill="#262626" >50</text>
<text x="155.45" y="587.70" font-size="7.4" text-anchor="middle" fill="#262626" >31</text>
<text x="174.73" y="587.70" font-size="7.4" text-anchor="middle" fill="#262626" >18</text>
<text x="194.00" y="587.70" font-size="7.4" text-anchor="middle" fill="#262626" >6</text>
<rect x="24.80" y="593.40" width="5.5" height="5.5" fill="#eba02a"/>
<text x="39.80" y="598.90" font-size="7.4" text-anchor="middle" fill="#262626" >12</text>
<text x="59.08" y="598.90" font-size="7.4" text-anchor="middle" fill="#262626" >9</text>
<text x="78.35" y="598.90" font-size="7.4" text-anchor="middle" fill="#262626" >7</text>
<text x="97.62" y="598.90" font-size="7.4" text-anchor="middle" fill="#262626" >6</text>
<text x="116.90" y="598.90" font-size="7.4" text-anchor="middle" fill="#262626" >3</text>
<text x="136.18" y="598.90" font-size="7.4" text-anchor="middle" fill="#262626" >3</text>
<text x="155.45" y="598.90" font-size="7.4" text-anchor="middle" fill="#262626" >2</text>
<text x="174.73" y="598.90" font-size="7.4" text-anchor="middle" fill="#262626" >1</text>
<text x="194.00" y="598.90" font-size="7.4" text-anchor="middle" fill="#262626" >0</text>
<rect x="24.80" y="604.60" width="5.5" height="5.5" fill="#4a2a7a"/>
<text x="39.80" y="610.10" font-size="7.4" text-anchor="middle" fill="#262626" >13</text>
<text x="59.08" y="610.10" font-size="7.4" text-anchor="middle" fill="#262626" >6</text>
<text x="78.35" y="610.10" font-size="7.4" text-anchor="middle" fill="#262626" >3</text>
<text x="97.62" y="610.10" font-size="7.4" text-anchor="middle" fill="#262626" >0</text>
<text x="116.90" y="610.10" font-size="7.4" text-anchor="middle" fill="#262626" >0</text>
<text x="136.18" y="610.10" font-size="7.4" text-anchor="middle" fill="#262626" >0</text>
<text x="155.45" y="610.10" font-size="7.4" text-anchor="middle" fill="#262626" >0</text>
<text x="174.73" y="610.10" font-size="7.4" text-anchor="middle" fill="#262626" >0</text>
<text x="194.00" y="610.10" font-size="7.4" text-anchor="middle" fill="#262626" >0</text>
<text x="19.20" y="597.30" font-size="8.8" text-anchor="middle" fill="#262626" textLength="15.8" lengthAdjust="spacingAndGlyphs" transform="rotate(-90 19.20 597.30)" stroke="#262626" stroke-width="0.25">Strata</text>
<text x="257.60" y="576.40" font-size="7.5" text-anchor="start" fill="#262626" textLength="46.5" lengthAdjust="spacingAndGlyphs" >Number at risk</text>
<rect x="242.20" y="582.20" width="5.5" height="5.5" fill="#4d5866"/>
<text x="257.20" y="587.70" font-size="7.4" text-anchor="middle" fill="#262626" >159</text>
<text x="276.47" y="587.70" font-size="7.4" text-anchor="middle" fill="#262626" >121</text>
<text x="295.75" y="587.70" font-size="7.4" text-anchor="middle" fill="#262626" >91</text>
<text x="315.02" y="587.70" font-size="7.4" text-anchor="middle" fill="#262626" >72</text>
<text x="334.30" y="587.70" font-size="7.4" text-anchor="middle" fill="#262626" >52</text>
<text x="353.57" y="587.70" font-size="7.4" text-anchor="middle" fill="#262626" >34</text>
<text x="372.85" y="587.70" font-size="7.4" text-anchor="middle" fill="#262626" >22</text>
<text x="392.12" y="587.70" font-size="7.4" text-anchor="middle" fill="#262626" >9</text>
<text x="411.40" y="587.70" font-size="7.4" text-anchor="middle" fill="#262626" >2</text>
<rect x="242.20" y="593.40" width="5.5" height="5.5" fill="#eba02a"/>
<text x="257.20" y="598.90" font-size="7.4" text-anchor="middle" fill="#262626" >12</text>
<text x="276.47" y="598.90" font-size="7.4" text-anchor="middle" fill="#262626" >6</text>
<text x="295.75" y="598.90" font-size="7.4" text-anchor="middle" fill="#262626" >4</text>
<text x="315.02" y="598.90" font-size="7.4" text-anchor="middle" fill="#262626" >3</text>
<text x="334.30" y="598.90" font-size="7.4" text-anchor="middle" fill="#262626" >1</text>
<text x="353.57" y="598.90" font-size="7.4" text-anchor="middle" fill="#262626" >1</text>
<text x="372.85" y="598.90" font-size="7.4" text-anchor="middle" fill="#262626" >1</text>
<text x="392.12" y="598.90" font-size="7.4" text-anchor="middle" fill="#262626" >0</text>
<text x="411.40" y="598.90" font-size="7.4" text-anchor="middle" fill="#262626" >0</text>
<rect x="242.20" y="604.60" width="5.5" height="5.5" fill="#4a2a7a"/>
<text x="257.20" y="610.10" font-size="7.4" text-anchor="middle" fill="#262626" >13</text>
<text x="276.47" y="610.10" font-size="7.4" text-anchor="middle" fill="#262626" >2</text>
<text x="295.75" y="610.10" font-size="7.4" text-anchor="middle" fill="#262626" >2</text>
<text x="315.02" y="610.10" font-size="7.4" text-anchor="middle" fill="#262626" >0</text>
<text x="334.30" y="610.10" font-size="7.4" text-anchor="middle" fill="#262626" >0</text>
<text x="353.57" y="610.10" font-size="7.4" text-anchor="middle" fill="#262626" >0</text>
<text x="372.85" y="610.10" font-size="7.4" text-anchor="middle" fill="#262626" >0</text>
<text x="392.12" y="610.10" font-size="7.4" text-anchor="middle" fill="#262626" >0</text>
<text x="411.40" y="610.10" font-size="7.4" text-anchor="middle" fill="#262626" >0</text>
<text x="236.60" y="597.30" font-size="8.8" text-anchor="middle" fill="#262626" textLength="15.8" lengthAdjust="spacingAndGlyphs" transform="rotate(-90 236.60 597.30)" stroke="#262626" stroke-width="0.25">Strata</text>
<rect x="429.50" y="463.20" width="12.2" height="12" fill="#585873" fill-opacity="0.3"/>
<path d="M430.00,469.20 H441.20 M435.60,467.00 V471.40" stroke="#4a4a4a" stroke-width="1.0" fill="none" />
<text x="444.00" y="472.00" font-size="7.1" text-anchor="start" fill="#262626" textLength="33.63" lengthAdjust="spacingAndGlyphs" >No HLH-LT</text>
<rect x="429.50" y="480.90" width="12.2" height="12" fill="#f8bd3a" fill-opacity="0.3"/>
<path d="M430.00,486.90 H441.20 M435.60,484.70 V489.10" stroke="#eba02a" stroke-width="1.0" fill="none" />
<text x="444.00" y="489.70" font-size="7.1" text-anchor="start" fill="#262626" textLength="58.46" lengthAdjust="spacingAndGlyphs" >HLH-LT F10-&lt;100K</text>
<rect x="429.50" y="497.80" width="12.2" height="12" fill="#622d98" fill-opacity="0.3"/>
<path d="M430.00,503.80 H441.20 M435.60,501.60 V506.00" stroke="#4a2a7a" stroke-width="1.0" fill="none" />
<text x="444.00" y="506.60" font-size="7.1" text-anchor="start" fill="#262626" textLength="48.47" lengthAdjust="spacingAndGlyphs" >HLH-LT F≥100K</text>
<rect x="0.5" y="0.5" width="519" height="617" fill="none" stroke="#555" stroke-width="1"/>
</svg></body></html>
